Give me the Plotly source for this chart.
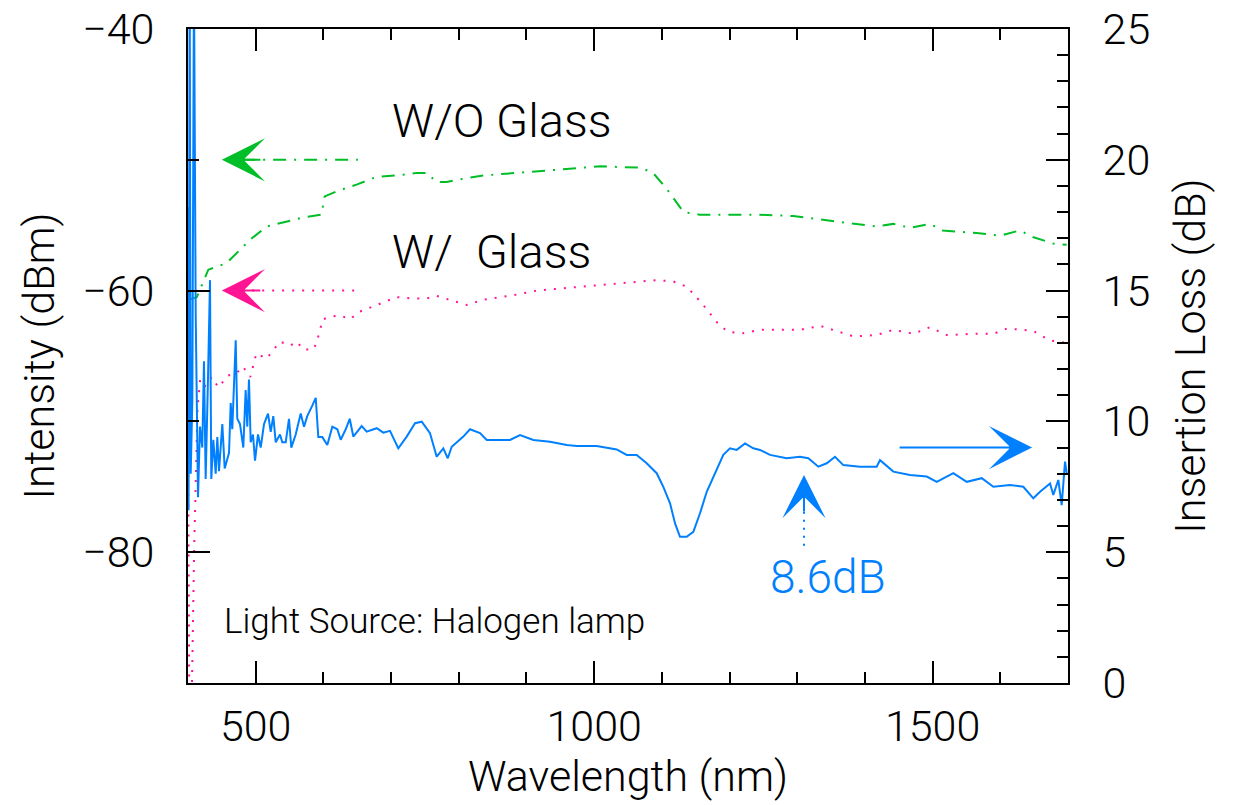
import plotly.graph_objects as go

# ---------------- data ----------------
# W/O Glass (left axis, dBm)
wl_noglass = [400, 413, 430, 457, 492, 516, 540, 570, 597, 602, 620, 649, 679, 708, 738, 753,
              767, 782, 812, 836, 861, 910, 959, 1009, 1068, 1087, 1107, 1119, 1132, 1156, 1196,
              1245, 1294, 1323, 1368, 1417, 1442, 1467, 1496, 1515, 1565, 1600, 1629, 1648, 1678, 1698]
dbm_noglass = [-60.7, -60.5, -58.4, -57.9, -56.1, -55.1, -54.8, -54.4, -54.2, -52.8, -52.4, -51.9,
               -51.3, -51.2, -51.0, -51.0, -51.7, -51.7, -51.4, -51.2, -51.1, -50.9, -50.7, -50.5,
               -50.6, -51.0, -52.2, -53.1, -54.0, -54.2, -54.2, -54.2, -54.3, -54.5, -54.8, -55.1,
               -54.9, -55.2, -54.9, -55.4, -55.6, -55.8, -55.4, -55.9, -56.4, -56.5]

# W/ Glass (left axis, dBm)
wl_glass = [400, 402, 405, 409, 414, 418, 425, 435, 445, 459, 472, 481, 492, 501, 516, 536, 551,
            561, 570, 585, 590, 599, 610, 625, 639, 654, 679, 708, 732, 753, 767, 787, 812, 836,
            861, 886, 915, 959, 999, 1048, 1092, 1117, 1137, 1151, 1166, 1181, 1196, 1216, 1245,
            1284, 1304, 1334, 1358, 1383, 1417, 1442, 1472, 1496, 1521, 1560, 1590, 1610, 1634,
            1649, 1673, 1698]
dbm_glass = [-71.0, -93.0, -93.0, -80.0, -69.0, -66.8, -67.3, -66.6, -67.4, -66.5, -66.3, -65.8,
             -66.6, -64.8, -65.2, -63.9, -64.2, -63.9, -64.5, -64.5, -64.0, -62.2, -62.0, -61.9,
             -62.2, -61.6, -61.1, -60.5, -60.6, -60.6, -60.4, -60.7, -61.1, -60.7, -60.5, -60.3,
             -60.0, -59.8, -59.6, -59.4, -59.2, -59.3, -59.7, -60.5, -61.4, -62.4, -63.1, -63.3,
             -63.0, -63.0, -63.0, -62.7, -63.1, -63.5, -63.4, -63.0, -63.3, -62.8, -63.4, -63.3,
             -63.3, -62.9, -63.0, -63.1, -63.8, -64.0]

# Insertion loss (right axis, dB)
wl_loss = [400, 400.8, 402.5, 404, 406.4, 408.8, 411.4, 412.9, 414.8, 417.7, 421.1, 423.6, 426.1,
           429.5, 432.5, 434.4, 437.4, 440.9, 443.3, 445.8, 450.7, 454.2, 460.6, 463.1, 465.4,
           470.5, 472.8, 476.8, 481.7, 485.2, 487.6, 490.1, 492.6, 496.0, 499.0, 503.4, 507.4,
           512.3, 518.2, 522.2, 526.0, 529.6, 535.9, 539.3, 544.3, 549.2, 552.6, 559.1, 566.5,
           571.4, 576.2, 583.6, 588.7, 592.5, 598.4, 605.8, 613.2, 620.6, 625.6, 633.0, 638.9,
           644.2, 656.6, 664.0, 678.8, 688.5, 698.4, 710.7, 723.1, 735.4, 745.3, 757.5, 767.4,
           777.2, 783.7, 789.6, 806.7, 816.6, 831.4, 841.3, 856.0, 875.7, 890.5, 910.1, 934.8,
           959.5, 974.2, 1003.8, 1033.3, 1048.1, 1062.9, 1077.6, 1092.4, 1102.2, 1112.1, 1119.5,
           1126.8, 1136.7, 1146.5, 1156.4, 1166.3, 1178.5, 1190.8, 1200.7, 1210.6, 1222.9,
           1235.1, 1245.0, 1259.8, 1284.5, 1304.1, 1316.4, 1331.2, 1343.6, 1355.8, 1368.1,
           1392.8, 1417.4, 1422.3, 1442.0, 1466.6, 1491.3, 1506.1, 1530.6, 1550.4, 1572.6,
           1589.7, 1614.4, 1634.0, 1648.8, 1658.7, 1673.5, 1678.3, 1685.7, 1690.7, 1695.6, 1698.1]
db_loss = [18.2, 6.6, 27.0, 8.0, 10.8, 27.0, 14.0, 10.8, 7.1, 9.8, 9.0, 12.3, 7.8,
           11.6, 15.4, 7.8, 9.3, 8.0, 9.4, 8.1, 9.9, 8.2, 8.8, 10.7, 9.7,
           13.1, 10.1, 9.9, 9.0, 11.2, 9.8, 11.6, 9.2, 9.5, 8.5, 9.5, 9.0,
           9.9, 10.3, 9.6, 10.2, 9.2, 9.5, 9.2, 9.2, 10.1, 9.0, 9.5, 10.3,
           9.8, 10.2, 10.6, 10.9, 9.4, 9.4, 9.1, 9.8, 9.7, 9.3, 9.7, 10.1,
           9.42, 9.82, 9.61, 9.74, 9.57, 9.64, 8.97, 9.42, 9.93, 9.99, 9.55, 8.65,
           8.97, 8.59, 9.03, 9.42, 9.70, 9.55, 9.29, 9.29, 9.29, 9.48, 9.29, 9.22,
           9.10, 9.06, 9.06, 8.93, 8.72, 8.72, 8.40, 8.02, 7.50, 6.87, 6.10,
           5.59, 5.59, 5.78, 6.49, 7.31, 8.02, 8.72, 8.97, 8.91, 9.16,
           8.97, 8.91, 8.72, 8.59, 8.65, 8.59, 8.27, 8.40, 8.65, 8.33,
           8.27, 8.27, 8.52, 8.08, 7.95, 7.89, 7.69, 8.02, 7.69, 7.83,
           7.50, 7.57, 7.50, 7.06, 7.31, 7.63, 7.19, 7.76, 6.80, 8.46, 8.02]

# axis ranges
x_range = [400, 1700]
y_left_range = [-90, -40]
y_right_range = [0, 25]

# annotation anchors
green_arrow_wl = [450, 651]
green_arrow_dbm = -50
pink_arrow_wl = [450, 651]
pink_arrow_dbm = -60
blue_arrow_wl = [1449, 1647]
blue_arrow_db = 9
mark_wl = 1310
mark_tip_db = 7.95
mark_line_db = [5.25, 6.85]

GREEN = "rgb(0,190,40)"
PINK = "rgb(255,20,147)"
BLUE = "rgb(0,128,255)"
FONT = "Roboto"

fig = go.Figure()

fig.add_trace(go.Scatter(x=wl_noglass, y=dbm_noglass, mode="lines",
                         line=dict(color=GREEN, width=2, dash="13px,8px,2px,8px"),
                         showlegend=False, yaxis="y"))
fig.add_trace(go.Scatter(x=wl_glass, y=dbm_glass, mode="lines",
                         line=dict(color=PINK, width=2, dash="2px,8px"),
                         showlegend=False, yaxis="y"))
fig.add_trace(go.Scatter(x=wl_loss, y=db_loss, mode="lines",
                         line=dict(color=BLUE, width=2),
                         showlegend=False, yaxis="y2"))

# arrow shafts
fig.add_trace(go.Scatter(x=[green_arrow_wl[0] + 30, green_arrow_wl[1]],
                         y=[green_arrow_dbm, green_arrow_dbm], mode="lines",
                         line=dict(color=GREEN, width=2, dash="13px,8px,2px,8px"),
                         showlegend=False, yaxis="y"))
fig.add_trace(go.Scatter(x=[pink_arrow_wl[0] + 30, pink_arrow_wl[1]],
                         y=[pink_arrow_dbm, pink_arrow_dbm], mode="lines",
                         line=dict(color=PINK, width=2, dash="2px,8px"),
                         showlegend=False, yaxis="y"))
fig.add_trace(go.Scatter(x=[mark_wl, mark_wl], y=mark_line_db, mode="lines",
                         line=dict(color=BLUE, width=2, dash="2px,6px"),
                         showlegend=False, yaxis="y2"))

tickfont = dict(family=FONT, size=43, color="black", weight=300)
titlefont = dict(family=FONT, size=43, color="black", weight=300)

fig.update_layout(
    width=1233, height=805,
    margin=dict(l=188, r=165, t=29, b=122, autoexpand=False),
    paper_bgcolor="white", plot_bgcolor="white",
    font=dict(family=FONT, color="black", weight=300),
    hovermode=False,
    xaxis=dict(range=x_range, tick0=0, dtick=500, ticks="inside", ticklen=22,
               tickwidth=2, tickcolor="black",
               minor=dict(dtick=100, ticks="inside", ticklen=11, tickwidth=2, tickcolor="black"),
               showline=True, linecolor="black", linewidth=2, mirror="ticks",
               showgrid=False, zeroline=False, tickfont=tickfont, automargin=False,
               ticklabelstandoff=4, ticklabeloverflow="allow",
               title=dict(text="Wavelength (nm)", font=titlefont, standoff=0)),
    yaxis=dict(range=y_left_range, tick0=-40, dtick=20, ticks="inside", ticklen=22,
               tickwidth=2, tickcolor="black",
               minor=dict(dtick=10, ticks="inside", ticklen=11, tickwidth=2, tickcolor="black"),
               showline=True, linecolor="black", linewidth=2,
               showgrid=False, zeroline=False, tickfont=tickfont, automargin=False,
               ticklabelstandoff=23, ticklabeloverflow="allow",
               title=dict(text="Intensity (dBm)", font=titlefont, standoff=14)),
    yaxis2=dict(range=y_right_range, overlaying="y", side="right", dtick=5,
                ticks="inside", ticklen=22, tickwidth=2, tickcolor="black",
                minor=dict(dtick=1, ticks="inside", ticklen=11, tickwidth=2, tickcolor="black"),
                showline=True, linecolor="black", linewidth=2,
                showgrid=False, zeroline=False, tickfont=tickfont, automargin=False,
                ticklabelstandoff=24, ticklabeloverflow="allow",
                title=dict(text="Insertion Loss (dB)", font=titlefont, standoff=26)),
)

annots = [
    dict(x=698, y=-47.0, xref="x", yref="y", text="W/O Glass", showarrow=False,
         xanchor="left", yanchor="middle", font=dict(family=FONT, size=47, weight=300)),
    dict(x=698, y=-57.0, xref="x", yref="y", text="W/&nbsp;&nbsp;Glass", showarrow=False,
         xanchor="left", yanchor="middle", font=dict(family=FONT, size=47, weight=300)),
    dict(x=450, y=-85.3, xref="x", yref="y", text="Light Source: Halogen lamp", showarrow=False,
         xanchor="left", yanchor="middle", font=dict(family=FONT, size=35, weight=300)),
    dict(x=1345, y=4.05, xref="x", yref="y2", text="8.6dB", showarrow=False,
         xanchor="center", yanchor="middle", font=dict(family=FONT, size=46, weight=300, color=BLUE)),
    # arrow heads
    dict(x=green_arrow_wl[0], y=green_arrow_dbm, xref="x", yref="y", text="", showarrow=True,
         ax=40, ay=0, arrowhead=3, arrowsize=3.6, arrowwidth=2, arrowcolor=GREEN),
    dict(x=pink_arrow_wl[0], y=pink_arrow_dbm, xref="x", yref="y", text="", showarrow=True,
         ax=40, ay=0, arrowhead=3, arrowsize=3.6, arrowwidth=2, arrowcolor=PINK),
    dict(x=blue_arrow_wl[1], y=blue_arrow_db, xref="x", yref="y2", text="", showarrow=True,
         ax=blue_arrow_wl[0], ay=blue_arrow_db, axref="x", ayref="y2",
         arrowhead=3, arrowsize=3.6, arrowwidth=2, arrowcolor=BLUE),
    dict(x=mark_wl, y=mark_tip_db, xref="x", yref="y2", text="", showarrow=True,
         ax=0, ay=38, arrowhead=3, arrowsize=3.6, arrowwidth=2, arrowcolor=BLUE),
]
fig.update_layout(annotations=annots)

# remove the default page margin so the figure fills the window exactly
fig.write_html("out.html",
               config={"displayModeBar": False, "staticPlot": True},
               post_script="document.body.style.margin='0';document.body.style.overflow='hidden';")
